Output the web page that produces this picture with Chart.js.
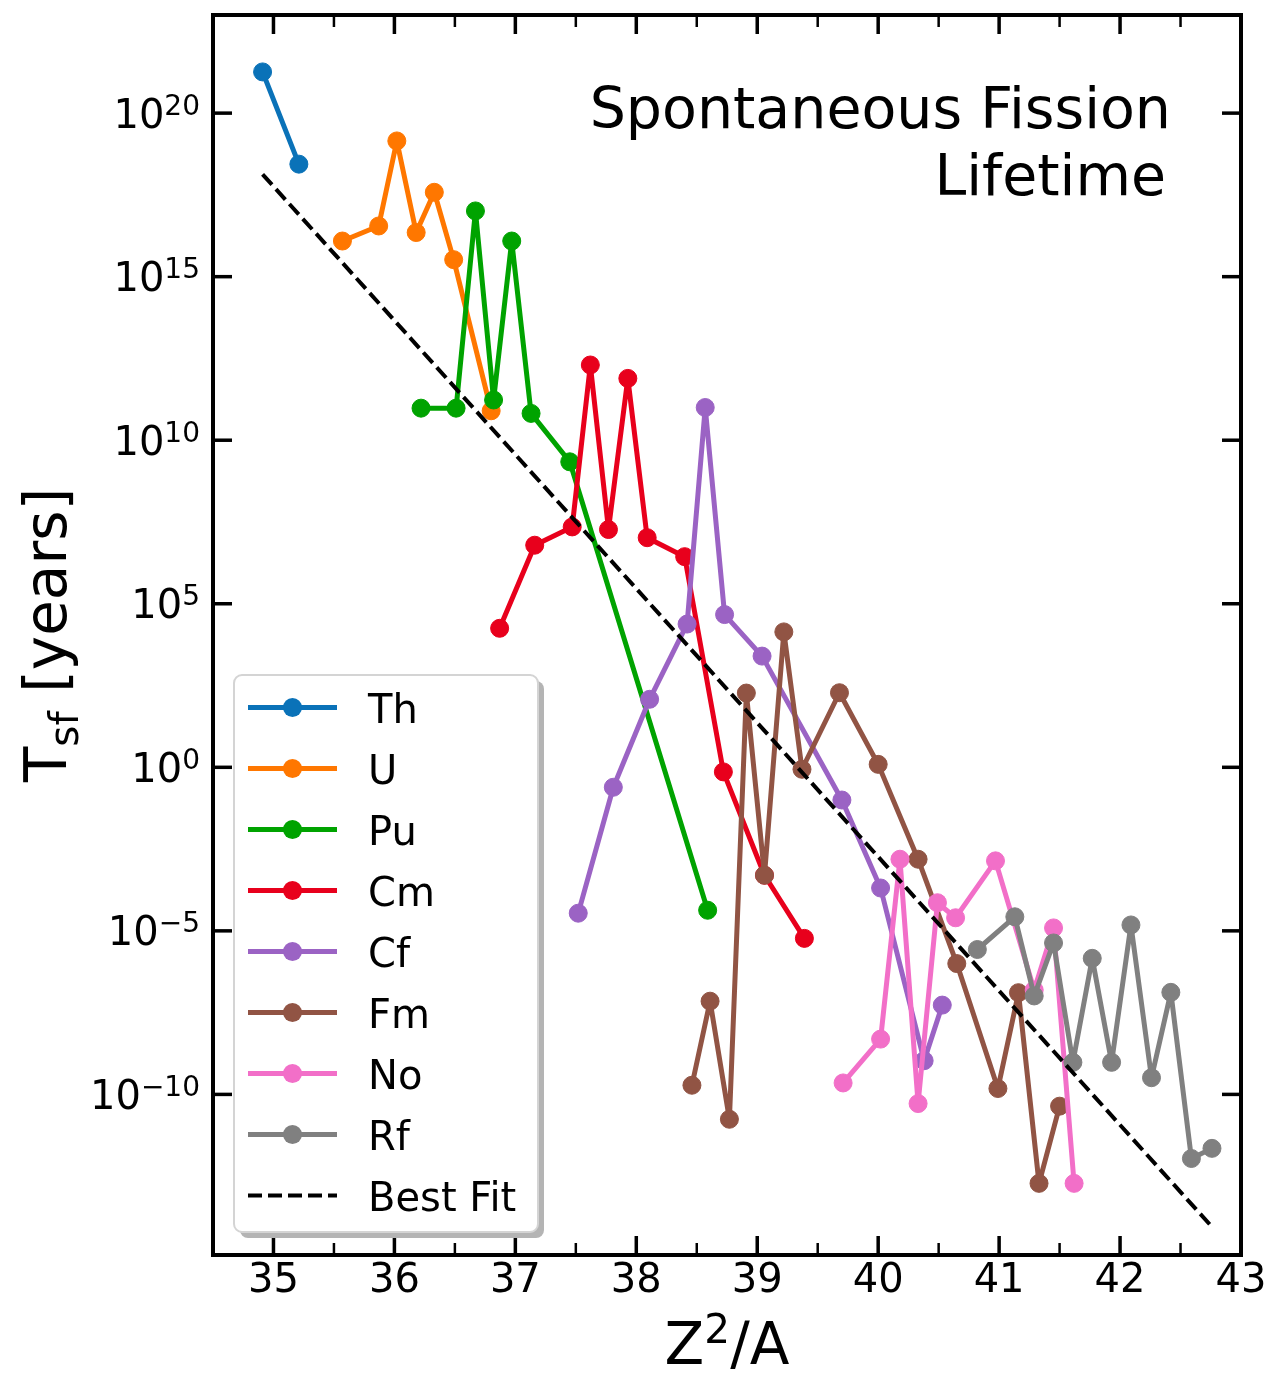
<!DOCTYPE html>
<html>
<head>
<meta charset="utf-8">
<title>Spontaneous Fission Lifetime</title>
<script src="https://cdn.jsdelivr.net/npm/chart.js@4.4.1/dist/chart.umd.min.js"></script>
<style>
  html, body { margin: 0; padding: 0; background: #ffffff; }
  #c { display: block; }
</style>
</head>
<body>
<canvas id="c" width="1273" height="1373"></canvas>
<script>
const FONT = "'DejaVu Sans', 'Liberation Sans', sans-serif";

// Elements and their line colours
const elements = ['Th', 'U', 'Pu', 'Cm', 'Cf', 'Fm', 'No', 'Rf'];
const seriesColors = ['#0a72b8', '#ff7700', '#00a300', '#e8001c', '#9b63c4', '#915444', '#f26fc8', '#808080'];

// Z^2/A of each isotope and log10 of its spontaneous-fission lifetime in years
const thZ2A = [34.91, 35.21];
const thLogT = [21.26, 18.44];
const uZ2A = [35.57, 35.87, 36.02, 36.18, 36.33, 36.49, 36.80];
const uLogT = [16.09, 16.55, 19.15, 16.35, 17.58, 15.52, 10.90];
const puZ2A = [36.22, 36.51, 36.67, 36.82, 36.97, 37.13, 37.45, 38.59];
const puLogT = [10.98, 10.98, 17.01, 11.23, 16.09, 10.82, 9.34, -4.37];
const cmZ2A = [36.87, 37.16, 37.47, 37.62, 37.77, 37.93, 38.09, 38.40, 38.72, 39.06, 39.39];
const cmLogT = [4.25, 6.79, 7.35, 12.30, 7.27, 11.89, 7.02, 6.44, -0.14, -3.30, -5.23];
const cfZ2A = [37.52, 37.81, 38.11, 38.42, 38.57, 38.73, 39.04, 39.70, 40.02, 40.38, 40.53];
const cfLogT = [-4.46, -0.61, 2.08, 4.38, 11.00, 4.67, 3.40, -1.00, -3.69, -8.97, -7.27];
const fmZ2A = [38.46, 38.61, 38.77, 38.91, 39.06, 39.22, 39.37, 39.68, 40.00, 40.33, 40.65, 40.99, 41.16, 41.33, 41.50];
const fmLogT = [-9.72, -7.15, -10.76, 2.27, -3.30, 4.14, -0.06, 2.28, 0.09, -2.81, -6.00, -9.82, -6.89, -12.72, -10.36];
const noZ2A = [39.71, 40.02, 40.18, 40.33, 40.49, 40.64, 40.97, 41.29, 41.45, 41.62];
const noLogT = [-9.65, -8.31, -2.81, -10.28, -4.14, -4.60, -2.86, -6.81, -4.91, -12.72];
const rfZ2A = [40.82, 41.13, 41.29, 41.45, 41.61, 41.77, 41.93, 42.09, 42.26, 42.42, 42.59, 42.76];
const rfLogT = [-5.57, -4.57, -6.99, -5.37, -9.02, -5.84, -9.02, -4.82, -9.49, -6.88, -11.96, -11.65];

// Straight-line fit of log10(T) against Z^2/A, given by its end points
const fitZ2A = [34.91, 42.76];
const fitLogT = [18.13, -14.05];
const fitLabel = 'Best Fit';

// Axis ticks
const xTicks = [35, 36, 37, 38, 39, 40, 41, 42, 43];
const xMinorTicks = [35.5, 36.5, 37.5, 38.5, 39.5, 40.5, 41.5, 42.5];
const yTickExps = [-10, -5, 0, 5, 10, 15, 20];

const seriesZ2A = [thZ2A, uZ2A, puZ2A, cmZ2A, cfZ2A, fmZ2A, noZ2A, rfZ2A];
const seriesLogT = [thLogT, uLogT, puLogT, cmLogT, cfLogT, fmLogT, noLogT, rfLogT];

const toPoints = (xs, logs) => xs.map((v, i) => ({ x: v, y: Math.pow(10, logs[i]) }));

const datasets = elements.map((name, i) => ({
  label: name,
  data: toPoints(seriesZ2A[i], seriesLogT[i]),
  showLine: true,
  borderColor: seriesColors[i],
  backgroundColor: seriesColors[i],
  borderWidth: 5,
  borderJoinStyle: 'round',
  borderCapStyle: 'round',
  pointRadius: 9,
  pointBorderWidth: 1,
  pointBorderColor: seriesColors[i],
  pointBackgroundColor: seriesColors[i],
  order: elements.length - i + 1
}));
datasets.push({
  label: fitLabel,
  data: toPoints(fitZ2A, fitLogT),
  showLine: true,
  borderColor: '#000000',
  borderWidth: 4,
  borderDash: [14, 6],
  pointRadius: 0,
  order: 0
});

function fontPx(px) { return px + 'px ' + FONT; }

// "10" with a raised exponent, right-aligned at xRight and centred on yMid
function drawPower(ctx, exp, xRight, yMid) {
  const base = '10';
  const sup = exp < 0 ? '\u2212' + Math.abs(exp) : String(exp);
  ctx.font = fontPx(40);
  const wb = ctx.measureText(base).width;
  ctx.font = fontPx(28);
  const ws = ctx.measureText(sup).width;
  const x0 = xRight - ws - wb;
  ctx.textAlign = 'left';
  ctx.textBaseline = 'alphabetic';
  ctx.font = fontPx(40);
  ctx.fillText(base, x0, yMid + 14.5);
  ctx.font = fontPx(28);
  ctx.fillText(sup, x0 + wb, yMid + 1.5);
}

const background = {
  id: 'background',
  beforeDraw(chart) {
    const ctx = chart.ctx;
    ctx.save();
    ctx.fillStyle = '#ffffff';
    ctx.fillRect(0, 0, chart.width, chart.height);
    ctx.restore();
  }
};

const frameAndText = {
  id: 'frameAndText',
  afterDraw(chart) {
    const { ctx, chartArea: a } = chart;
    const xs = chart.scales.x, ys = chart.scales.y;
    ctx.save();
    ctx.strokeStyle = '#000000';
    ctx.fillStyle = '#000000';
    ctx.lineCap = 'butt';

    const seg = (x1, y1, x2, y2, w) => {
      ctx.lineWidth = w;
      ctx.beginPath();
      ctx.moveTo(x1, y1);
      ctx.lineTo(x2, y2);
      ctx.stroke();
    };

    // inward ticks on all four sides
    xTicks.forEach(v => {
      const px = xs.getPixelForValue(v);
      seg(px, a.bottom, px, a.bottom - 19, 3.5);
      seg(px, a.top, px, a.top + 19, 3.5);
    });
    xMinorTicks.forEach(v => {
      const px = xs.getPixelForValue(v);
      seg(px, a.bottom, px, a.bottom - 12, 2.5);
      seg(px, a.top, px, a.top + 12, 2.5);
    });
    yTickExps.forEach(e => {
      const py = ys.getPixelForValue(Math.pow(10, e));
      seg(a.left, py, a.left + 19, py, 3.5);
      seg(a.right, py, a.right - 19, py, 3.5);
    });

    // plot frame
    ctx.lineWidth = 4;
    ctx.lineJoin = 'miter';
    ctx.strokeRect(a.left, a.top, a.right - a.left, a.bottom - a.top);

    // y tick labels
    yTickExps.forEach(e => {
      drawPower(ctx, e, a.left - 13, ys.getPixelForValue(Math.pow(10, e)));
    });

    // x axis title: Z^2/A
    {
      const baseY = 1364;
      ctx.font = fontPx(58);
      const wZ = ctx.measureText('Z').width;
      const wR = ctx.measureText('/A').width;
      ctx.font = fontPx(40.6);
      const w2 = ctx.measureText('2').width;
      const total = wZ + w2 + wR;
      let x0 = (a.left + a.right) / 2 - total / 2;
      ctx.textAlign = 'left';
      ctx.textBaseline = 'alphabetic';
      ctx.font = fontPx(58);
      ctx.fillText('Z', x0, baseY);
      ctx.font = fontPx(40.6);
      ctx.fillText('2', x0 + wZ, baseY - 21);
      ctx.font = fontPx(58);
      ctx.fillText('/A', x0 + wZ + w2, baseY);
    }

    // y axis title: T_sf [years]
    {
      ctx.save();
      ctx.translate(66, (a.top + a.bottom) / 2);
      ctx.rotate(-Math.PI / 2);
      ctx.font = fontPx(58);
      const wT = ctx.measureText('T').width;
      const wRest = ctx.measureText(' [years]').width;
      ctx.font = fontPx(40.6);
      const wSub = ctx.measureText('sf').width;
      const total = wT + wSub + wRest;
      let x0 = -total / 2;
      ctx.textAlign = 'left';
      ctx.textBaseline = 'alphabetic';
      ctx.font = fontPx(58);
      ctx.fillText('T', x0, 0);
      ctx.font = fontPx(40.6);
      ctx.fillText('sf', x0 + wT, 12);
      ctx.font = fontPx(58);
      ctx.fillText(' [years]', x0 + wT + wSub, 0);
      ctx.restore();
    }

    // annotation in the upper right
    ctx.font = fontPx(57);
    ctx.textAlign = 'right';
    ctx.textBaseline = 'alphabetic';
    ctx.fillText('Spontaneous Fission', 1171, 128);
    ctx.fillText('Lifetime', 1166, 195);

    // legend
    {
      const bx = 234, by = 675, bw = 304, bh = 557, r = 8;
      const rr = (x, y, w, h) => {
        ctx.beginPath();
        ctx.moveTo(x + r, y);
        ctx.arcTo(x + w, y, x + w, y + h, r);
        ctx.arcTo(x + w, y + h, x, y + h, r);
        ctx.arcTo(x, y + h, x, y, r);
        ctx.arcTo(x, y, x + w, y, r);
        ctx.closePath();
      };
      ctx.fillStyle = '#b4b4b4';
      rr(bx + 6, by + 6, bw, bh);
      ctx.fill();
      ctx.fillStyle = '#ffffff';
      rr(bx, by, bw, bh);
      ctx.fill();
      ctx.strokeStyle = '#d4d4d4';
      ctx.lineWidth = 2;
      rr(bx, by, bw, bh);
      ctx.stroke();

      const rowY0 = 707.5, rowStep = 61;
      const lx1 = 248, lx2 = 337, mx = 292.5, tx = 368;
      chart.data.datasets.forEach((ds, i) => {
        const yRow = rowY0 + i * rowStep;
        ctx.save();
        ctx.strokeStyle = ds.borderColor;
        ctx.lineWidth = ds.borderWidth;
        ctx.setLineDash(ds.borderDash || []);
        ctx.beginPath();
        ctx.moveTo(lx1, yRow);
        ctx.lineTo(lx2, yRow);
        ctx.stroke();
        ctx.restore();
        if (ds.pointRadius > 0) {
          ctx.fillStyle = ds.pointBackgroundColor;
          ctx.beginPath();
          ctx.arc(mx, yRow, ds.pointRadius + 0.5, 0, Math.PI * 2);
          ctx.fill();
        }
        ctx.fillStyle = '#000000';
        ctx.font = fontPx(40);
        ctx.textAlign = 'left';
        ctx.textBaseline = 'alphabetic';
        ctx.fillText(ds.label, tx, yRow + 15);
      });
    }
    ctx.restore();
  }
};

new Chart(document.getElementById('c'), {
  type: 'scatter',
  data: { datasets },
  options: {
    responsive: false,
    devicePixelRatio: 1,
    animation: false,
    layout: { padding: { left: 0, top: 15, right: 32, bottom: 0 } },
    plugins: { legend: { display: false }, tooltip: { enabled: false } },
    scales: {
      x: {
        type: 'linear',
        position: 'bottom',
        min: 34.5,
        max: 43,
        afterBuildTicks: s => { s.ticks = xTicks.map(v => ({ value: v })); },
        afterFit: s => { s.height = 118; },
        grid: { display: false, drawTicks: false },
        border: { display: false },
        ticks: {
          color: '#000000',
          padding: 3,
          maxRotation: 0,
          autoSkip: false,
          font: { family: FONT, size: 40 },
          callback: v => String(v)
        }
      },
      y: {
        type: 'logarithmic',
        position: 'left',
        min: Math.pow(10, -14.91),
        max: 1e23,
        afterBuildTicks: s => { s.ticks = yTickExps.map(e => ({ value: Math.pow(10, e) })); },
        afterFit: s => { s.width = 213; },
        grid: { display: false, drawTicks: false },
        border: { display: false },
        ticks: { display: false }
      }
    }
  },
  plugins: [background, frameAndText]
});
</script>
</body>
</html>
